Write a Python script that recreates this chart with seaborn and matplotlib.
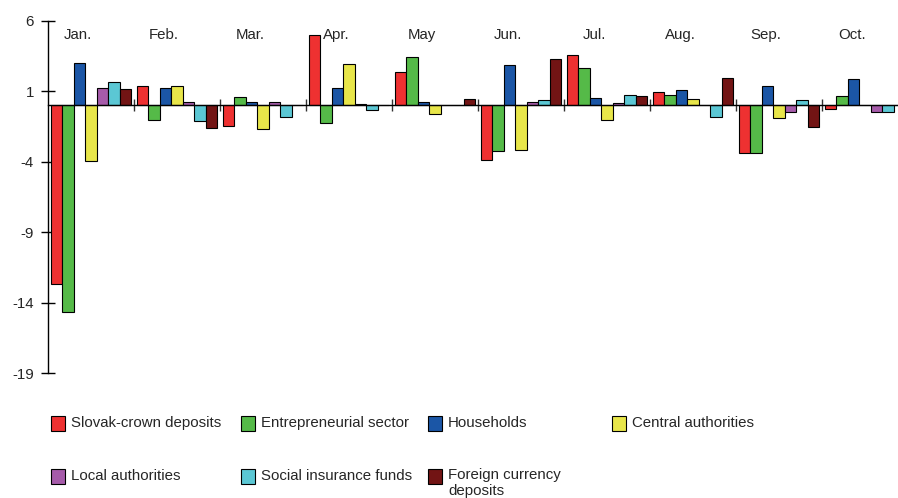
import matplotlib
matplotlib.use("Agg")
import matplotlib.pyplot as plt
import seaborn as sns
import pandas as pd
from matplotlib.patches import Rectangle

months = ["Jan.", "Feb.", "Mar.", "Apr.", "May", "Jun.", "Jul.", "Aug.", "Sep.", "Oct."]
series = ["Slovak-crown deposits", "Entrepreneurial sector", "Households",
          "Central authorities", "Local authorities", "Social insurance funds",
          "Foreign currency\ndeposits"]

slovak_crown = [-12.7, 1.37, -1.45, 4.99, 2.39, -3.86, 3.57, 0.97, -3.36, -0.24]
entrepreneurial = [-14.7, -1.02, 0.57, -1.23, 3.46, -3.24, 2.68, 0.76, -3.36, 0.66]
households = [3.0, 1.25, 0.26, 1.25, 0.26, 2.86, 0.55, 1.07, 1.35, 1.85]
central = [-3.93, 1.37, -1.70, 2.98, -0.62, -3.15, -1.02, 0.47, -0.92, 0.0]
local = [1.25, 0.26, 0.26, 0.10, 0.0, 0.26, 0.17, 0.0, -0.43, -0.43]
social = [1.68, -1.11, -0.80, -0.31, 0.0, 0.40, 0.76, -0.83, 0.38, -0.43]
foreign = [1.16, -1.61, 0.0, 0.0, 0.47, 3.27, 0.66, 1.97, -1.54, 0.0]

yticks = [6, 1, -4, -9, -14, -19]

colors = ["#EE3131", "#55BA48", "#1B56A6", "#E8E64A", "#A65BAA", "#5BC7D4", "#721414"]

values = [slovak_crown, entrepreneurial, households, central, local, social, foreign]
rows = []
for name, vals in zip(series, values):
    for m, v in zip(months, vals):
        rows.append({"month": m, "series": name, "value": v})
df = pd.DataFrame(rows)

sns.set_style("white")
plt.rcParams["font.family"] = ["Liberation Sans", "DejaVu Sans"]

FS = 10.8

fig = plt.figure(figsize=(8.98, 4.98), dpi=100)
ax = fig.add_axes([48 / 898, 1 - 373 / 498, 1 - 48 / 898, (373 - 21) / 498])

sns.barplot(data=df, x="month", y="value", hue="series", order=months,
            hue_order=series, palette=colors, width=0.93, edgecolor="black",
            linewidth=0.8, saturation=1, legend=False, ax=ax)

ax.set_xlim(-0.5, -0.5 + 850 / 86)
ax.set_ylim(-19, 6)
ax.set_yticks(yticks)
ax.set_yticklabels([str(t) for t in yticks], fontsize=FS)
ax.set_xlabel("")
ax.set_ylabel("")

for s in ["top", "right"]:
    ax.spines[s].set_visible(False)
ax.spines["left"].set_color("black")
ax.spines["left"].set_linewidth(1.0)
ax.spines["bottom"].set_position(("data", 0))
ax.spines["bottom"].set_color("black")
ax.spines["bottom"].set_linewidth(1.0)
ax.spines["bottom"].set_zorder(5)

ax.set_xticks([i + 0.5 for i in range(len(months) - 1)])
ax.set_xticklabels([])
ax.tick_params(axis="x", bottom=True, direction="inout", length=8, width=1, color="#333333")
ax.tick_params(axis="y", left=True, direction="inout", length=10, width=1, color="black", pad=5)

for i, m in enumerate(months):
    ax.text(i - 0.15, 5.0, m, ha="center", va="center", fontsize=FS)

# legend
leg_items = [(51, 423, 0), (241, 423, 1), (428, 423, 2), (612, 423, 3),
             (51, 476, 4), (241, 476, 5), (428, 476, 6)]
W, H = 898, 498
for x, y, k in leg_items:
    fig.add_artist(Rectangle((x / W, 1 - (y + 7.5) / H), 14 / W, 15 / H,
                             transform=fig.transFigure, facecolor=colors[k],
                             edgecolor="black", linewidth=0.8))
    if "\n" in series[k]:
        fig.text((x + 20) / W, 1 - (y - 8) / H, series[k], ha="left", va="top",
                 fontsize=FS, linespacing=1.2)
    else:
        fig.text((x + 20) / W, 1 - y / H, series[k], ha="left", va="center",
                 fontsize=FS)

fig.savefig("out.png", dpi=100)
